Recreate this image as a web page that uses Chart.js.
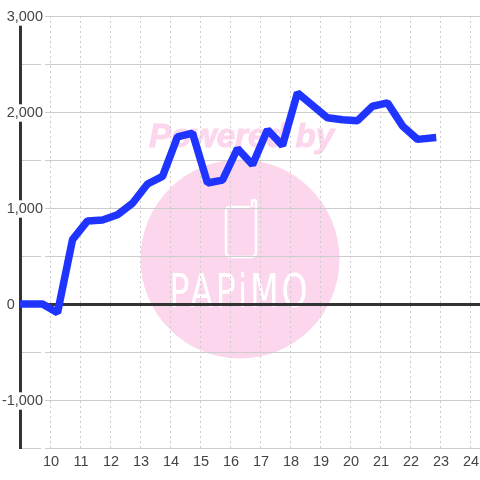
<!DOCTYPE html>
<html><head><meta charset="utf-8">
<style>html,body{margin:0;padding:0;background:#fff}canvas{display:block}</style>
<script src="https://cdn.jsdelivr.net/npm/chart.js@4"></script>
</head><body><canvas id="c" width="480" height="480"></canvas>
<script>
const xValues=[8.75,9.25,9.75,10.25,10.75,11.25,11.75,12.25,12.75,13.25,13.75,14.25,14.75,15.25,15.75,16.25,16.75,17.25,17.75,18.25,18.75,19.25,19.75,20.25,20.75,21.25,21.75,22.25,22.75];
const yValues=[0,0,0,-90,670,865,875,930,1050,1250,1330,1740,1780,1260,1290,1620,1450,1815,1650,2200,2070,1940,1920,1910,2060,2095,1855,1715,1730];
const points=xValues.map((x,i)=>({x,y:yValues[i]}));
const pink='#fcd6ec';
const watermark={id:'watermark',beforeDraw(chart){
  const c=chart.ctx;c.save();
  c.fillStyle='#fff';c.fillRect(0,0,480,480);
  c.fillStyle=pink;c.beginPath();c.arc(240,259,99.5,0,Math.PI*2);c.fill();
  c.font='italic bold 33px "Liberation Sans"';c.textAlign='center';c.textBaseline='alphabetic';
  c.strokeStyle=pink;c.lineWidth=1;
  c.fillText('Powered by',241.5,146.5);c.strokeText('Powered by',241.5,146.5);
  c.strokeStyle='#fff';c.lineWidth=2.5;c.lineJoin='round';
  c.beginPath();c.moveTo(250,207);c.lineTo(230,207);c.quadraticCurveTo(226,207,226,211);
  c.lineTo(226,252);c.quadraticCurveTo(226,257,231,257);c.lineTo(251,257);c.quadraticCurveTo(256,257,256,252);
  c.lineTo(256,202);c.arc(254,202,2,0,Math.PI,true);c.lineTo(252,207);c.stroke();
  c.fillStyle='#fff';c.font='46px "DejaVu Sans"';c.textAlign='center';
  c.translate(240,307);c.scale(0.72,1);
  c.letterSpacing='4px';
  c.fillText('PAPiMO',0,0);
  c.restore();
}};
new Chart(document.getElementById('c'),{
  type:'line',
  data:{datasets:[{data:points,borderColor:'#1f35ff',borderWidth:7.5,pointRadius:0,tension:0,borderCapStyle:'square',borderJoinStyle:'bevel',fill:false}]},
  options:{responsive:false,animation:false,devicePixelRatio:1,
    layout:{padding:{top:16,left:0,right:0,bottom:0}},
    plugins:{legend:{display:false},tooltip:{enabled:false},title:{display:false}},
    scales:{
      x:{type:'linear',min:9,max:24.3333,
        afterBuildTicks(s){s.ticks=s.ticks.filter(t=>Number.isInteger(t.value)&&t.value>=10);},
        afterFit(s){s.height=32;s.paddingLeft=0;s.paddingRight=0;},
        ticks:{stepSize:1,includeBounds:false,autoSkip:false,maxRotation:0,padding:5,labelOffset:1,color:'#444',font:{family:'"Liberation Sans"',size:14.5},callback:v=>String(v)},
        grid:{color:'#cccccc',lineWidth:1,drawTicks:false},
        border:{color:'#cccccc',width:1,dash:[2,3]}
      },
      y:{min:-1500,max:3000,
        afterFit(s){s.width=20;s._computeLabelArea=()=>undefined;},
        ticks:{stepSize:500,padding:-23,labelOffset:1,color:'#444',font:{family:'"Liberation Sans"',size:14.5},
          showLabelBackdrop:true,
          backdropColor:ctx=>ctx.tick.value===0?'rgba(255,255,255,0)':'#ffffff',
          backdropPadding:{top:0,bottom:0,left:2,right:2},
          callback(v){if(v===0)return '0       ';return v%1000===0?v.toLocaleString('en-US'):'';}},
        grid:{drawTicks:false,color:ctx=>ctx.tick.value===0?'#333333':'#cccccc',lineWidth:ctx=>ctx.tick.value===0?3:1},
        border:{color:'#333333',width:3}
      }
    }
  },
  plugins:[watermark]
});
</script></body></html>
